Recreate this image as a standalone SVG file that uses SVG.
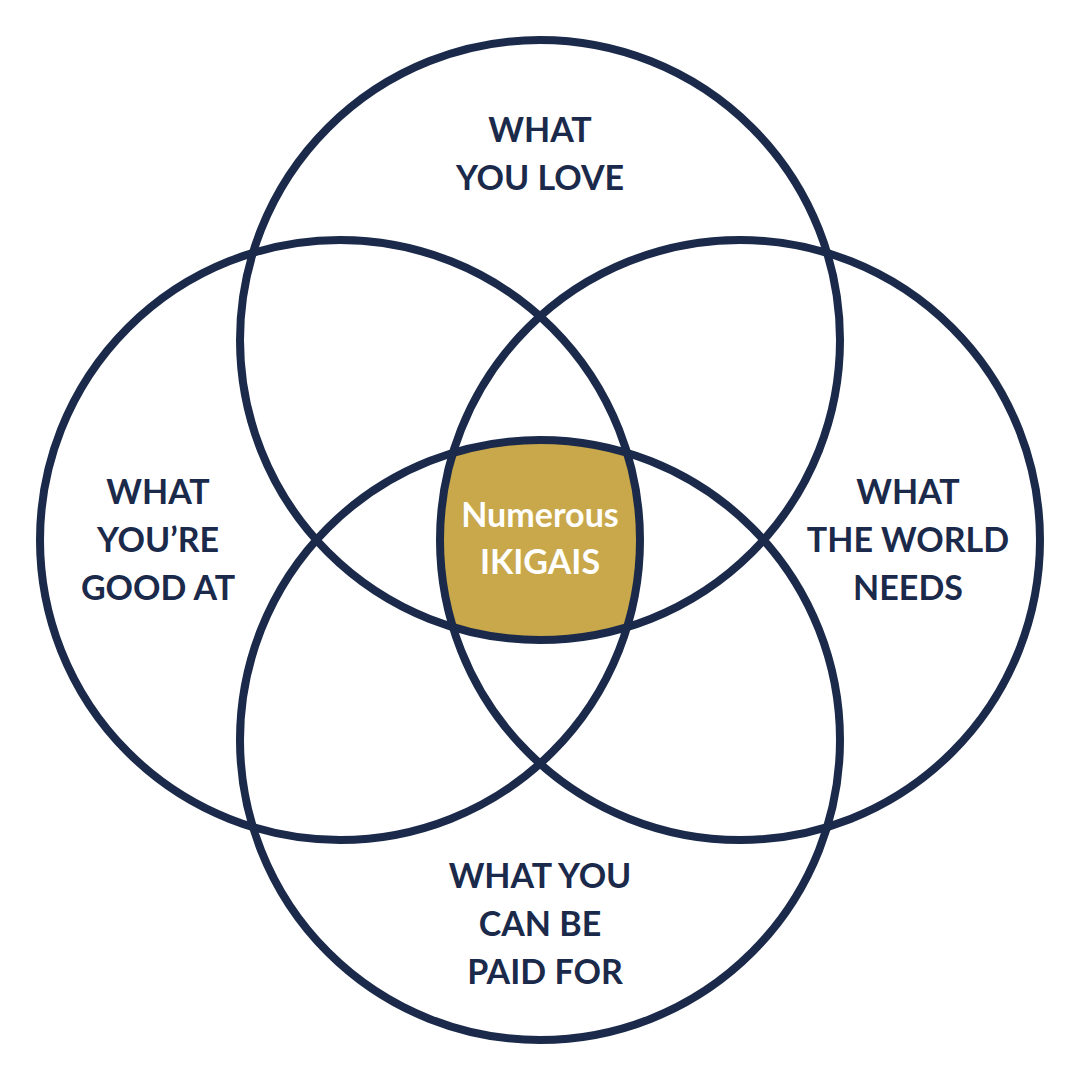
<svg xmlns="http://www.w3.org/2000/svg" width="1080" height="1080" viewBox="0 0 1080 1080">
<style>
.c{fill:none;stroke:#1b2a4a;stroke-width:8}
.t{font-family:Lato,"Liberation Sans",sans-serif;font-weight:bold;font-size:34px;fill:#1b2a4a;text-anchor:middle}
.w{font-family:Lato,"Liberation Sans",sans-serif;font-weight:bold;font-size:34px;fill:#ffffff;text-anchor:middle}
</style>
<rect width="1080" height="1080" fill="#ffffff"/>
<g id="center"><path d="M453,453 A300,300 0 0 1 627,453 A300,300 0 0 1 627,627 A300,300 0 0 1 453,627 A300,300 0 0 1 453,453 Z" fill="#c8a84b"/>
<text class="w" x="540" y="527">Numerous</text><text class="w" x="540" y="574">IKIGAIS</text></g>
<g id="connectors">
<circle class="c" cx="540" cy="340" r="300"/>
<circle class="c" cx="340" cy="540" r="300"/>
<circle class="c" cx="740" cy="540" r="300"/>
<circle class="c" cx="540" cy="740" r="300"/>
</g>
<g id="love"><text class="t" x="540" y="142">WHAT</text><text class="t" x="540" y="190">YOU LOVE</text></g>
<g id="good"><text class="t" x="158" y="504">WHAT</text><text class="t" x="158" y="552">YOU’RE</text><text class="t" x="158" y="600">GOOD AT</text></g>
<g id="world"><text class="t" x="908" y="504">WHAT</text><text class="t" x="908" y="552">THE WORLD</text><text class="t" x="908" y="600">NEEDS</text></g>
<g id="paid"><text class="t" x="540" y="888">WHAT YOU</text><text class="t" x="540" y="936">CAN BE</text><text class="t" x="545" y="984">PAID FOR</text></g>
</svg>
